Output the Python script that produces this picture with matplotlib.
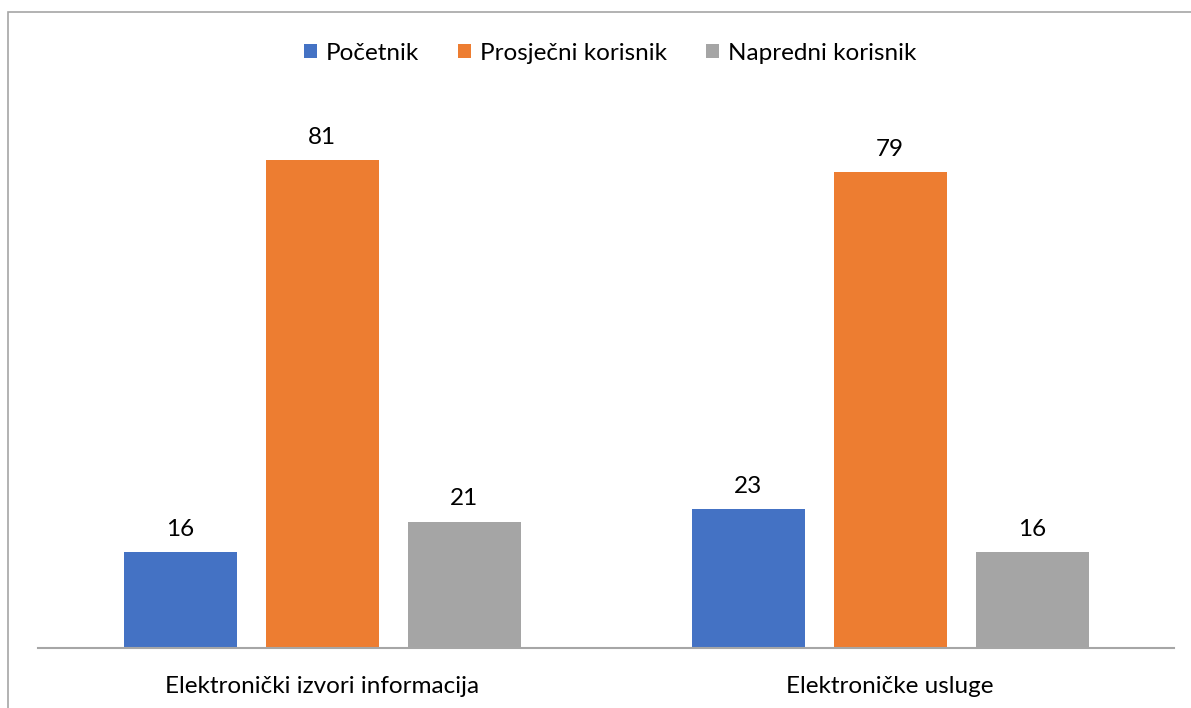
import matplotlib
matplotlib.use("Agg")
import matplotlib.pyplot as plt
from matplotlib.patches import Rectangle
import numpy as np

categories = ["Elektronički izvori informacija", "Elektroničke usluge"]
series_names = ["Početnik", "Prosječni korisnik", "Napredni korisnik"]
values = [
    [16, 23],
    [81, 79],
    [21, 16],
]
colors = ["#4472C4", "#ED7D31", "#A5A5A5"]

plt.rcParams['font.family'] = ['Lato', 'DejaVu Sans']

W, H = 1191, 708
fig = plt.figure(figsize=(W / 100, H / 100), dpi=100)

# chart border
fig.patches.append(Rectangle((8 / W, 0 - 0.01), 1.2, 1 - 12 / H + 0.01,
                             transform=fig.transFigure, fill=False,
                             edgecolor="#A6A6A6", linewidth=1.2))

left, right = 38 / W, 1174 / W
bottom = 1 - 648 / H
top = 1 - 106 / H
ax = fig.add_axes([left, bottom, right - left, top - bottom])

FS = 17.5
x = np.arange(len(categories))
bw = 113 / 568
pitch = 142 / 568
for i, (name, vals) in enumerate(zip(series_names, values)):
    pos = x + (i - 1) * pitch
    bars = ax.bar(pos, vals, width=bw, color=colors[i], label=name, zorder=2)
    for b, v in zip(bars, vals):
        ax.text(b.get_x() + b.get_width() / 2, v + 2.0, str(v),
                ha="center", va="bottom", fontsize=FS, color="#000000")

ax.set_xlim(-0.5, 1.5)
ax.set_ylim(0, 90)
for s in ["top", "right", "left"]:
    ax.spines[s].set_visible(False)
ax.spines["bottom"].set_color("#A6A6A6")
ax.spines["bottom"].set_linewidth(1.5)
ax.set_yticks([])
ax.set_xticks(x)
ax.set_xticklabels(categories, fontsize=FS)
ax.tick_params(axis="x", length=0, pad=20)

fig.legend(loc="center", bbox_to_anchor=(610 / W, 1 - 53 / H), ncol=3,
           frameon=False, fontsize=FS, handlelength=0.55, handleheight=0.55,
           handletextpad=0.35, columnspacing=1.6)

fig.savefig("out.png", dpi=100)
